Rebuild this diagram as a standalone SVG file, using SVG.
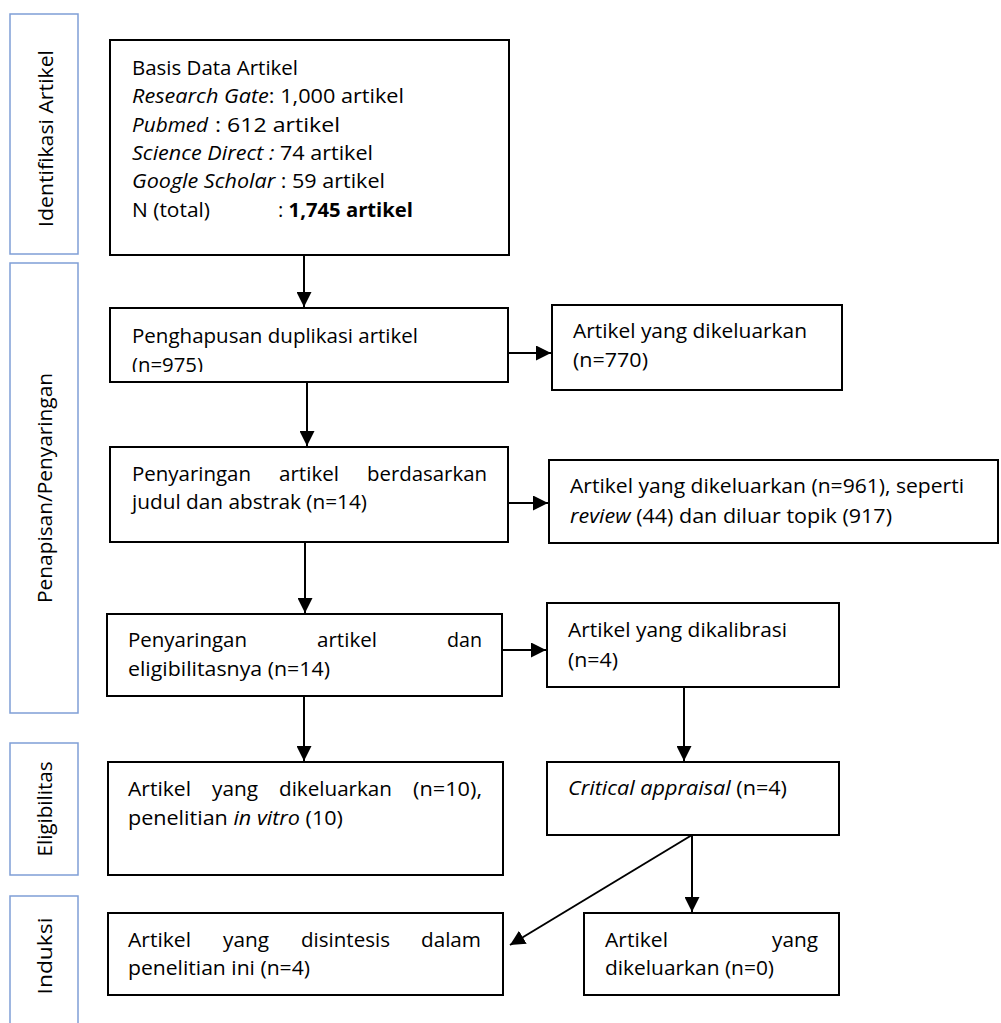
<svg xmlns="http://www.w3.org/2000/svg" width="1001" height="1023" viewBox="0 0 1001 1023">
<style>
.bg{fill:#ffffff}
.box{fill:#ffffff;stroke:#000000;stroke-width:2}
.lab{fill:#ffffff;stroke:#7F9ED6;stroke-width:1.5}
.t{font-family:"Open Sans","Noto Sans",sans-serif;font-size:20px;fill:#000000}
.i{font-style:italic}
.b{font-weight:bold}
.c{fill:none;stroke:#000000;stroke-width:2}
</style>
<defs>
<marker id="ah" viewBox="0 0 14 14" refX="14" refY="7" markerWidth="15" markerHeight="15" markerUnits="userSpaceOnUse" orient="auto">
<path d="M0,0 L14,7 L0,14 z" fill="#000000"/>
</marker>
<clipPath id="clip2"><rect x="111" y="309" width="396" height="63"/></clipPath>
</defs>
<rect class="bg" x="0" y="0" width="1001" height="1023"/>

<g id="label-identifikasi">
<rect class="lab" x="10" y="14" width="68" height="240"/>
<text class="t" transform="translate(53,138.5) rotate(-90)" text-anchor="middle" textLength="177" lengthAdjust="spacingAndGlyphs">Identifikasi Artikel</text>
</g>
<g id="label-penapisan">
<rect class="lab" x="10" y="263" width="68" height="450"/>
<text class="t" transform="translate(52,488) rotate(-90)" text-anchor="middle" textLength="230" lengthAdjust="spacingAndGlyphs">Penapisan/Penyaringan</text>
</g>
<g id="label-eligibilitas">
<rect class="lab" x="10" y="743" width="68" height="132"/>
<text class="t" transform="translate(52,809) rotate(-90)" text-anchor="middle" textLength="95" lengthAdjust="spacingAndGlyphs">Eligibilitas</text>
</g>
<g id="label-induksi">
<rect class="lab" x="10" y="896" width="68" height="140"/>
<text class="t" transform="translate(52,956) rotate(-90)" text-anchor="middle" textLength="77" lengthAdjust="spacingAndGlyphs">Induksi</text>
</g>

<g id="connectors">
<line class="c" x1="304" y1="255" x2="304" y2="307" marker-end="url(#ah)"/>
<line class="c" x1="508" y1="353" x2="551" y2="353" marker-end="url(#ah)"/>
<line class="c" x1="307" y1="382" x2="307" y2="446" marker-end="url(#ah)"/>
<line class="c" x1="508" y1="503" x2="548" y2="503" marker-end="url(#ah)"/>
<line class="c" x1="305" y1="542" x2="305" y2="613" marker-end="url(#ah)"/>
<line class="c" x1="502" y1="650" x2="546" y2="650" marker-end="url(#ah)"/>
<line class="c" x1="684" y1="687" x2="684" y2="761" marker-end="url(#ah)"/>
<line class="c" x1="304" y1="696" x2="304" y2="761" marker-end="url(#ah)"/>
<line class="c" x1="692" y1="835" x2="510" y2="945" marker-end="url(#ah)"/>
<line class="c" x1="692" y1="835" x2="692" y2="912" marker-end="url(#ah)"/>
</g>

<g id="node-basis">
<rect class="box" x="110" y="40" width="399" height="215"/>
<text class="t" x="132" y="75" textLength="166" lengthAdjust="spacingAndGlyphs">Basis Data Artikel</text>
<text class="t" x="132" y="103" textLength="272" lengthAdjust="spacingAndGlyphs"><tspan class="i">Research Gate</tspan>: 1,000 artikel</text>
<text class="t i" x="132" y="132" textLength="76" lengthAdjust="spacingAndGlyphs">Pubmed</text>
<text class="t" x="215" y="132" textLength="125" lengthAdjust="spacingAndGlyphs">: 612 artikel</text>
<text class="t" x="132" y="160" textLength="241" lengthAdjust="spacingAndGlyphs"><tspan class="i">Science Direct :</tspan> 74 artikel</text>
<text class="t" x="132" y="188" textLength="253" lengthAdjust="spacingAndGlyphs"><tspan class="i">Google Scholar</tspan> : 59 artikel</text>
<text class="t" x="132" y="217" textLength="78" lengthAdjust="spacingAndGlyphs">N (total)</text>
<text class="t" x="278" y="217" textLength="135" lengthAdjust="spacingAndGlyphs">: <tspan class="b">1,745 artikel</tspan></text>
</g>

<g id="node-duplikasi">
<rect class="box" x="110" y="308" width="398" height="74"/>
<text class="t" x="132" y="343" textLength="286" lengthAdjust="spacingAndGlyphs">Penghapusan duplikasi artikel</text>
<text class="t" x="132" y="372" textLength="71" lengthAdjust="spacingAndGlyphs" clip-path="url(#clip2)">(n=975)</text>
</g>

<g id="node-keluar770">
<rect class="box" x="552" y="305" width="290" height="85"/>
<text class="t" x="573" y="338" textLength="234" lengthAdjust="spacingAndGlyphs">Artikel yang dikeluarkan</text>
<text class="t" x="573" y="367" textLength="75" lengthAdjust="spacingAndGlyphs">(n=770)</text>
</g>

<g id="node-judul">
<rect class="box" x="110" y="447" width="398" height="95"/>
<text class="t" x="132" y="481" textLength="119" lengthAdjust="spacingAndGlyphs">Penyaringan</text>
<text class="t" x="279" y="481" textLength="60" lengthAdjust="spacingAndGlyphs">artikel</text>
<text class="t" x="367" y="481" textLength="120" lengthAdjust="spacingAndGlyphs">berdasarkan</text>
<text class="t" x="132" y="509" textLength="235" lengthAdjust="spacingAndGlyphs">judul dan abstrak (n=14)</text>
</g>

<g id="node-keluar961">
<rect class="box" x="549" y="460" width="449" height="83"/>
<text class="t" x="570" y="493" textLength="394" lengthAdjust="spacingAndGlyphs">Artikel yang dikeluarkan (n=961), seperti</text>
<text class="t" x="570" y="523" textLength="322" lengthAdjust="spacingAndGlyphs"><tspan class="i">review</tspan> (44) dan diluar topik (917)</text>
</g>

<g id="node-eligibilitas">
<rect class="box" x="107" y="614" width="395" height="82"/>
<text class="t" x="128" y="647" textLength="119" lengthAdjust="spacingAndGlyphs">Penyaringan</text>
<text class="t" x="317" y="647" textLength="60" lengthAdjust="spacingAndGlyphs">artikel</text>
<text class="t" x="447" y="647" textLength="35" lengthAdjust="spacingAndGlyphs">dan</text>
<text class="t" x="128" y="676" textLength="202" lengthAdjust="spacingAndGlyphs">eligibilitasnya (n=14)</text>
</g>

<g id="node-kalibrasi">
<rect class="box" x="547" y="603" width="292" height="84"/>
<text class="t" x="568" y="637" textLength="219" lengthAdjust="spacingAndGlyphs">Artikel yang dikalibrasi</text>
<text class="t" x="568" y="667" textLength="50" lengthAdjust="spacingAndGlyphs">(n=4)</text>
</g>

<g id="node-keluar10">
<rect class="box" x="108" y="762" width="395" height="113"/>
<text class="t" x="128" y="796" textLength="63" lengthAdjust="spacingAndGlyphs">Artikel</text>
<text class="t" x="212" y="796" textLength="46" lengthAdjust="spacingAndGlyphs">yang</text>
<text class="t" x="279" y="796" textLength="113" lengthAdjust="spacingAndGlyphs">dikeluarkan</text>
<text class="t" x="413" y="796" textLength="69" lengthAdjust="spacingAndGlyphs">(n=10),</text>
<text class="t" x="128" y="825" textLength="215" lengthAdjust="spacingAndGlyphs">penelitian <tspan class="i">in vitro</tspan> (10)</text>
</g>

<g id="node-critical">
<rect class="box" x="547" y="762" width="292" height="73"/>
<text class="t" x="568" y="795" textLength="219" lengthAdjust="spacingAndGlyphs"><tspan class="i">Critical appraisal</tspan> (n=4)</text>
</g>

<g id="node-disintesis">
<rect class="box" x="108" y="913" width="395" height="82"/>
<text class="t" x="128" y="947" textLength="63" lengthAdjust="spacingAndGlyphs">Artikel</text>
<text class="t" x="223" y="947" textLength="46" lengthAdjust="spacingAndGlyphs">yang</text>
<text class="t" x="301" y="947" textLength="89" lengthAdjust="spacingAndGlyphs">disintesis</text>
<text class="t" x="421" y="947" textLength="60" lengthAdjust="spacingAndGlyphs">dalam</text>
<text class="t" x="128" y="975" textLength="182" lengthAdjust="spacingAndGlyphs">penelitian ini (n=4)</text>
</g>

<g id="node-keluar0">
<rect class="box" x="584" y="913" width="255" height="82"/>
<text class="t" x="605" y="947" textLength="63" lengthAdjust="spacingAndGlyphs">Artikel</text>
<text class="t" x="772" y="947" textLength="46" lengthAdjust="spacingAndGlyphs">yang</text>
<text class="t" x="605" y="975" textLength="169" lengthAdjust="spacingAndGlyphs">dikeluarkan (n=0)</text>
</g>
</svg>
